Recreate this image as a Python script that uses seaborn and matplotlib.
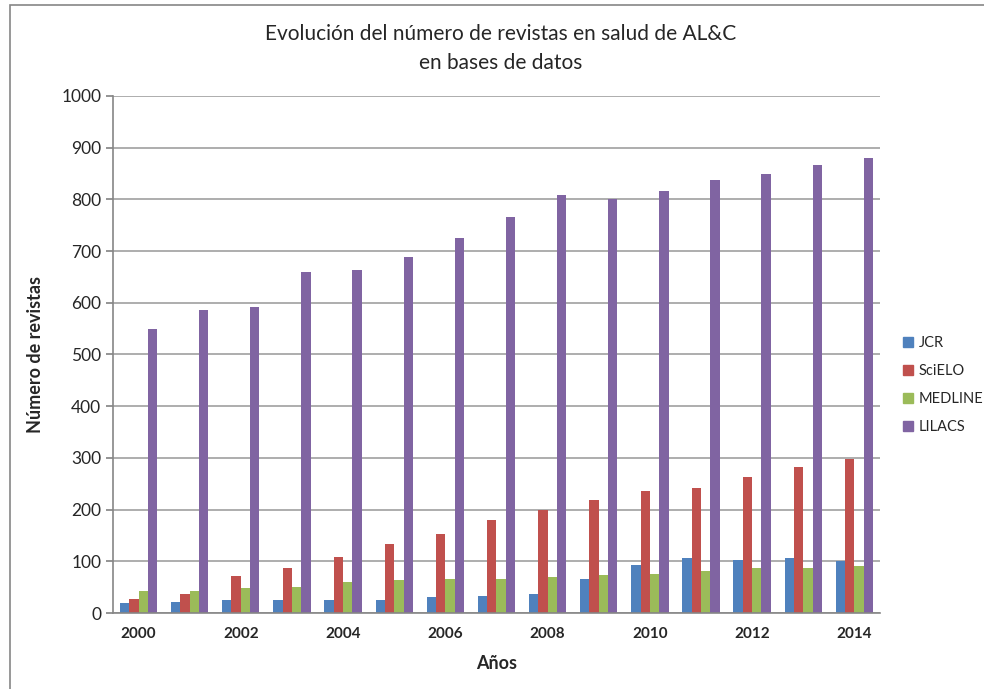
import matplotlib.pyplot as plt
import matplotlib.patches as mpatches
import seaborn as sns
import pandas as pd

years = [str(y) for y in range(2000, 2015)]
jcr = [20, 22, 26, 26, 26, 26, 30, 33, 37, 66, 93, 106, 103, 106, 101]
scielo = [28, 37, 72, 88, 109, 133, 153, 179, 200, 219, 236, 242, 264, 282, 297]
medline = [42, 43, 48, 51, 59, 64, 66, 66, 70, 73, 75, 81, 88, 88, 90]
lilacs = [550, 586, 591, 660, 664, 689, 726, 766, 808, 800, 817, 837, 850, 866, 881]

series = ['JCR', 'SciELO', 'MEDLINE', 'LILACS']
colors = ['#4F81BD', '#C0504D', '#9BBB59', '#8064A2']

df = pd.DataFrame({'Año': years, 'JCR': jcr, 'SciELO': scielo,
                   'MEDLINE': medline, 'LILACS': lilacs})
df = df.melt(id_vars='Año', var_name='Base', value_name='Revistas')

sns.set_theme(style="white")
plt.rcParams['font.family'] = ['Lato', 'DejaVu Sans']

fig = plt.figure(figsize=(9.84, 6.89), dpi=100)
ax = fig.add_axes([0.1148, 0.1103, 0.7795, 0.7504])

sns.barplot(data=df, x='Año', y='Revistas', hue='Base', hue_order=series,
            palette=colors, width=0.73, saturation=1, linewidth=0, gap=0,
            ax=ax, legend=False)

ax.set_ylim(0, 1000)
ax.set_yticks(range(0, 1001, 100))
ax.set_xlim(-0.5, len(years) - 0.5)
ax.set_xticks(range(0, len(years), 2))
ax.set_xticklabels(years[::2], fontsize=11, fontweight='bold')
ax.tick_params(axis='y', labelsize=12.5, length=5, direction='out', color='#868686', left=True)
ax.tick_params(axis='x', length=0, pad=10)
ax.yaxis.grid(True, color='#A0A0A0', linewidth=1.2)
ax.set_axisbelow(True)
for side in ['top', 'right']:
    ax.spines[side].set_visible(False)
for side in ['left', 'bottom']:
    ax.spines[side].set_color('#868686')
    ax.spines[side].set_linewidth(1.2)

ax.set_xlabel('Años', fontsize=13, fontweight='bold', labelpad=10)
ax.set_ylabel('Número de revistas', fontsize=13, fontweight='bold', labelpad=12)

fig.text(0.509, 0.951, 'Evolución del número de revistas en salud de AL&C',
         ha='center', va='center', fontsize=15)
fig.text(0.509, 0.909, 'en bases de datos', ha='center', va='center', fontsize=15)

handles = [mpatches.Patch(color=c, label=s) for s, c in zip(series, colors)]
fig.legend(handles=handles, loc='center left', bbox_to_anchor=(0.912, 0.441),
           frameon=False, fontsize=10.5, handlelength=0.7, handleheight=0.7,
           handletextpad=0.35, labelspacing=0.95, borderaxespad=0)

fig.patches.append(mpatches.Rectangle((10 / 984, -0.1), 1.2, 1.1 - 5 / 689,
                                      transform=fig.transFigure, fill=False,
                                      edgecolor='#868686', linewidth=1.2))

fig.savefig('out.png', dpi=100)
